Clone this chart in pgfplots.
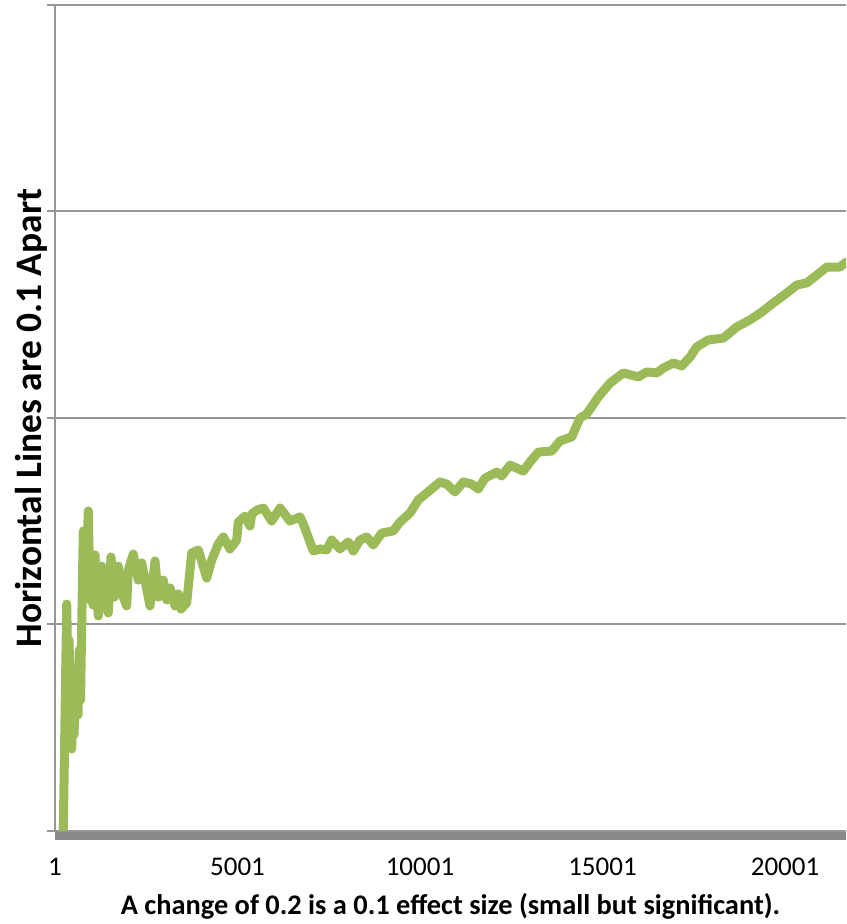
\documentclass[border=0pt]{standalone}
\usepackage{pgfplots}
\pgfplotsset{compat=1.18}
\usepackage{fontspec}
\setmainfont{Carlito}
\definecolor{linegreen}{RGB}{155,187,89}
\definecolor{gridgray}{RGB}{150,150,150}
\definecolor{axisgray}{RGB}{137,137,137}
\begin{document}
\begin{tikzpicture}
\begin{axis}[
  scale only axis,
  width=395.5pt, height=413pt,
  xmin=1, xmax=21672,
  ymin=0, ymax=0.4,
  clip mode=individual,
  axis x line=bottom, axis y line=left,
  axis line style={-, draw=gridgray, line width=1pt},
  scaled x ticks=false,
  xtick={1,5001,10001,15001,20001},
  xticklabels={1,5001,10001,15001,20001},
  x tick label style={font=\fontsize{13.5}{15}\selectfont, yshift=-6pt},
  major x tick style={draw=none},
  ytick={0,0.1,0.2,0.3,0.4},
  yticklabels={},
  ymajorgrids,
  major grid style={draw=gridgray, line width=1pt},
  y tick style={draw=gridgray, line width=1pt},
  tick align=outside,
  major tick length=4pt,
  /pgf/number format/assume math mode=true,
  xlabel={\textbf{A change of 0.2 is a 0.1 effect size (small but significant).}},
  ylabel={\textbf{Horizontal Lines are 0.1 Apart}},
  every axis x label/.style={at={(axis description cs:0.5,0)}, anchor=center, yshift=-37.5pt, font=\fontsize{14.2}{16}\selectfont},
  every axis y label/.style={at={(axis description cs:-0.0303,0.5)}, anchor=center, rotate=90, font=\fontsize{18.7}{20}\selectfont},
]
\addplot[linegreen, line width=4.5pt, line join=round, line cap=round] coordinates {
(228,0) (322,0.1099) (365,0.0634) (385,0.0925) (458,0.0397) (494,0.0731)
(521,0.0465) (595,0.0770) (631,0.0562) (667,0.0877) (700,0.0634)
(733,0.0998) (776,0.1453) (823,0.1215) (869,0.1312) (913,0.1550)
(960,0.1119) (1001,0.1312) (1042,0.1094) (1097,0.1337)
(1187,0.1041) (1280,0.1283) (1371,0.1119)
(1461,0.1056) (1535,0.1327) (1626,0.1133) (1735,0.1283) (1828,0.1153)
(1965,0.1090) (2009,0.1264) (2146,0.1341) (2283,0.1215) (2376,0.1298)
(2604,0.1090) (2741,0.1308) (2831,0.1133) (2968,0.1215) (3061,0.1119)
(3152,0.1177) (3289,0.1090) (3379,0.1148) (3453,0.1075) (3609,0.1104)
(3746,0.1346) (3927,0.1361) (4157,0.1225) (4294,0.1312) (4475,0.1390)
(4612,0.1424) (4795,0.1366) (4979,0.1409) (5023,0.1496) (5206,0.1525)
(5343,0.1477) (5390,0.1535) (5535,0.1554) (5708,0.1564) (5938,0.1501)
(6165,0.1564) (6439,0.1501) (6713,0.1521) (6804,0.1487) (7078,0.1356)
(7261,0.1366) (7445,0.1361) (7582,0.1409) (7810,0.1366) (8036,0.1400)
(8174,0.1356) (8357,0.1409) (8541,0.1424) (8721,0.1385) (8952,0.1443)
(9269,0.1453) (9453,0.1496) (9727,0.1540) (9954,0.1603) (10184,0.1637)
(10549,0.1690) (10733,0.1680) (10960,0.1642) (11187,0.1690) (11417,0.1680)
(11598,0.1656) (11782,0.1709) (12102,0.1738) (12239,0.1719) (12467,0.1772)
(12831,0.1743) (13015,0.1787) (13242,0.1835) (13609,0.1840) (13836,0.1889)
(14157,0.1908) (14384,0.2000) (14568,0.2019) (14886,0.2102) (15206,0.2169)
(15571,0.2218) (15982,0.2199) (16212,0.2223) (16486,0.2218) (16667,0.2242)
(16941,0.2266) (17171,0.2252) (17398,0.2295) (17582,0.2344) (17900,0.2378)
(18311,0.2387) (18678,0.2441) (19042,0.2475) (19363,0.2513) (19681,0.2557)
(20048,0.2605) (20322,0.2644) (20596,0.2654) (20870,0.2692) (21144,0.2731)
(21508,0.2731) (21672,0.2755)
};
\draw[axisgray, line width=4pt] ([yshift=-2.5pt]rel axis cs:0,0) -- ([yshift=-2.5pt]rel axis cs:1,0);
\end{axis}
\pgfresetboundingbox
\path[use as bounding box] (-27.5pt,-46.5pt) rectangle (395.5pt,415.5pt);
\end{tikzpicture}
\end{document}
